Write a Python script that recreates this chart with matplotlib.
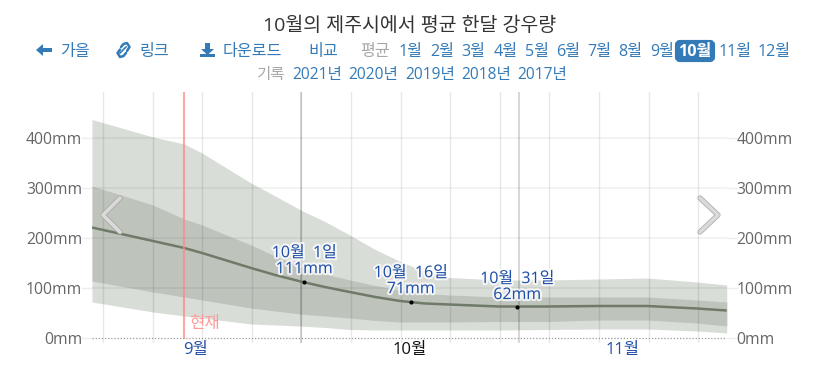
import matplotlib
matplotlib.use("Agg")
import matplotlib.pyplot as plt
import matplotlib.patheffects as pe
from matplotlib.patches import FancyBboxPatch, Polygon, Rectangle
from matplotlib.lines import Line2D

plt.rcParams['font.family'] = ['Open Sans', 'Noto Sans CJK KR', 'DejaVu Sans']

days = [0.1, 8.7, 13.1, 15.6, 22.5, 25.9, 29.5, 32.9, 36.4, 40.0, 43.5, 47.0, 50.4, 57.4, 64.3, 71.4, 78.3, 85.3, 89.5]
outer_hi = [436, 401, 387, 369, 309, 283, 255, 232, 205, 176, 152, 132, 120, 115, 115, 117, 119, 111, 105]
inner_hi = [303, 265, 237, 225, 185, 163, 141, 127, 115, 104, 95, 88, 85, 81, 81, 81, 81, 75, 71]
mean = [220, 193, 179, 169, 139, 125, 112, 101, 91, 81, 73, 68, 66, 62, 62, 63, 63, 58, 54]
inner_lo = [113, 91, 81, 75, 59, 53, 47, 43, 39, 34, 31, 31, 31, 32, 32, 35, 35, 29, 23]
outer_lo = [71, 51, 43, 39, 27, 25, 23, 20, 16, 15, 15, 15, 15, 15, 16, 17, 17, 13, 9]

y_ticks = [0, 100, 200, 300, 400]
y_labels = ['0mm', '100mm', '200mm', '300mm', '400mm']
grid_days = [1.65 + 6.986 * k for k in range(13)]
month_days = [14.7, 44.8, 74.9]
month_labels = ['9월', '10월', '11월']
month_colors = ['#2450a8', '#111111', '#2450a8']
marker_days = [30, 45, 60]
marker_vals = [111, 71, 62]
marker_labels = ['10월  1일\n111mm', '10월  16일\n71mm', '10월  31일\n62mm']
label_lift = [15, 15, 14]
dark_days = [29.6, 60.3]
now_day = 13.0

W, H = 831, 365
fig = plt.figure(figsize=(W / 100, H / 100), dpi=100)
fig.patch.set_facecolor('white')

L, R, T, B = 92, 727, 92, 343
ax = fig.add_axes([L / W, 1 - B / H, (R - L) / W, (B - T) / H])
px_per_mm = 0.5
ax.set_xlim(0.1, 0.1 + (R - L) / 7.1)
ax.set_ylim(-(B - 337.5) / px_per_mm, (337.5 - T) / px_per_mm)
for s in ax.spines.values():
    s.set_visible(False)

ax.fill_between(days, outer_lo, outer_hi, color='#d9ddd8', lw=0, zorder=1)
ax.fill_between(days, inner_lo, inner_hi, color='#bec3bc', lw=0, zorder=1.1)
ax.plot(days, mean, color='#6f7a68', lw=1.8, zorder=3, solid_capstyle='butt')

for g in grid_days:
    ax.axvline(g, color='#000000', alpha=0.09, lw=1, zorder=2)
for d in dark_days:
    ax.axvline(d, color='#000000', alpha=0.17, lw=1.3, zorder=2)
for v in y_ticks[1:]:
    ax.axhline(v, color='#000000', alpha=0.05, lw=1.3, zorder=2)
ax.axhline(0, color='#999999', lw=0.9, ls=(0, (1, 1.5)), zorder=2)
ax.plot([now_day, now_day], [0, 600], color='#f88', alpha=0.75, lw=1.5, zorder=4)

ax.set_yticks(y_ticks)
ax.set_yticklabels(y_labels)
ax.tick_params(axis='y', which='both', left=True, right=True, labelleft=True, labelright=True,
               length=8, width=1, color='#eeeeee', labelcolor='#666666', labelsize=11.3, pad=-1)
ax.set_xticks([])
for d, lab, c in zip(month_days, month_labels, month_colors):
    ax.annotate(lab, (d, 0), xytext=(0, -9), textcoords='offset points', ha='center', va='center',
                color=c, fontsize=12, annotation_clip=False)

halo = [pe.withStroke(linewidth=3, foreground='white', alpha=0.75)]
ax.scatter(marker_days, marker_vals, s=9, color='black', zorder=5, lw=0)
for d, v, lab, lift in zip(marker_days, marker_vals, marker_labels, label_lift):
    t = ax.annotate(lab, (d, v), xytext=(0, lift), textcoords='offset points', ha='center', va='center',
                    color='#1f4fa8', fontsize=11.5, linespacing=1.0, zorder=6)
    t.set_path_effects(halo)
ax.annotate('현재', (now_day, 0), xytext=(14.7, 9.5), textcoords='offset points', ha='center', va='center',
            color='#f99', fontsize=12, zorder=6)

# ---------- page chrome, placed in pixel coordinates ----------
overlay = fig.add_axes([0, 0, 1, 1], facecolor='none')
overlay.set_xlim(0, W)
overlay.set_ylim(H, 0)
overlay.axis('off')

LINK = '#337ab7'
GREY = '#a8a8a8'
overlay.text(410, 26, '10월의 제주시에서 평균 한달 강우량', ha='center', va='center', fontsize=14, color='#333333')

row2 = [('가을', 74.5, LINK), ('링크', 154.5, LINK), ('다운로드', 252.5, LINK), ('비교', 323, LINK),
        ('평균', 375.5, GREY), ('1월', 410.5, LINK), ('2월', 442.5, LINK), ('3월', 473.5, LINK),
        ('4월', 505.5, LINK), ('5월', 536.5, LINK), ('6월', 568, LINK), ('7월', 599.5, LINK),
        ('8월', 630.5, LINK), ('9월', 662, LINK), ('11월', 735.5, LINK), ('12월', 774, LINK)]
for s, x, c in row2:
    overlay.text(x, 52, s, ha='center', va='center', fontsize=11.6, color=c)

overlay.add_patch(FancyBboxPatch((677, 42), 36, 18, boxstyle='round,pad=0,rounding_size=3',
                                 fc=LINK, ec=LINK, lw=3))
overlay.text(695, 52, '10월', ha='center', va='center', fontsize=11.6, color='white', fontweight='bold')

row3 = [('기록', 270.5, GREY), ('2021년', 317.5, LINK), ('2020년', 373.5, LINK), ('2019년', 430.5, LINK),
        ('2018년', 486.5, LINK), ('2017년', 542.5, LINK)]
for s, x, c in row3:
    overlay.text(x, 75, s, ha='center', va='center', fontsize=11.2, color=c)

# back arrow icon
overlay.add_patch(Polygon([(36, 50), (43, 44), (43, 48), (52, 48), (52, 52), (43, 52), (43, 56)], fc=LINK, ec='none'))
# link icon
overlay.add_line(Line2D([120, 126], [53, 47], color=LINK, lw=1.2))
overlay.add_line(Line2D([120, 117.5, 120, 123.5, 126], [49.5, 53, 57, 56, 53], color=LINK, lw=1.8, solid_capstyle='round'))
overlay.add_line(Line2D([127, 129.5, 127, 123.5, 121], [51, 47, 43, 44, 47], color=LINK, lw=1.8, solid_capstyle='round'))
# download icon
overlay.add_patch(Polygon([(205, 43), (210, 43), (210, 49), (214, 49), (207.5, 55), (201, 49), (205, 49)], fc=LINK, ec='none'))
overlay.add_patch(Rectangle((200, 53.5), 15, 3.5, fc=LINK, ec='none', zorder=0.5))

# prev / next chevrons
for xs, ys in (([120, 103, 120], [198, 215, 232]), ([700, 718, 700], [198, 215, 232])):
    overlay.add_line(Line2D(xs, ys, color='#a6a6a6', lw=3.8, solid_capstyle='round', solid_joinstyle='round', alpha=0.9))
    overlay.add_line(Line2D(xs, ys, color='#dadada', lw=2.6, solid_capstyle='round', solid_joinstyle='round'))

fig.savefig('out.png', dpi=100, facecolor='white')
